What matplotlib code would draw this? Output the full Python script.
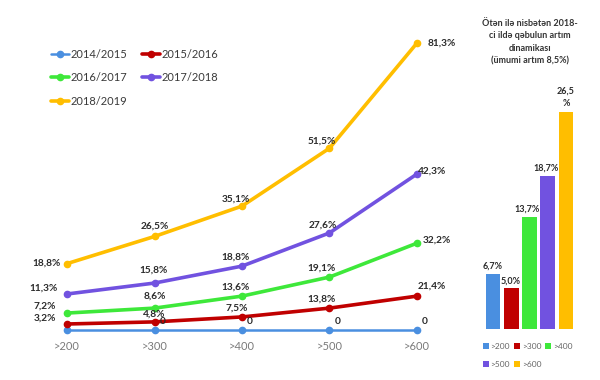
import matplotlib
matplotlib.use("Agg")
import matplotlib.pyplot as plt
from matplotlib.patches import Patch

plt.rcParams['font.family'] = ['Lato', 'DejaVu Sans']

# ---------------- data ----------------
categories = [">200", ">300", ">400", ">500", ">600"]
series_names = ["2014/2015", "2015/2016", "2016/2017", "2017/2018", "2018/2019"]

vals_2014_2015 = [0, 0, 0, 0, 0]
vals_2015_2016 = [1.7, 2.3, 3.7, 6.2, 9.6]
vals_2016_2017 = [4.8, 6.2, 9.6, 15.0, 24.6]
vals_2017_2018 = [10.2, 13.3, 18.1, 27.5, 44.2]
vals_2018_2019 = [18.8, 26.5, 35.1, 51.5, 81.3]

# data label texts as printed on the chart
labels_2014_2015 = ["", "0", "0", "0", "0"]
labels_2015_2016 = ["3,2%", "4,8%", "7,5%", "13,8%", "21,4%"]
labels_2016_2017 = ["7,2%", "8,6%", "13,6%", "19,1%", "32,2%"]
labels_2017_2018 = ["11,3%", "15,8%", "18,8%", "27,6%", "42,3%"]
labels_2018_2019 = ["18,8%", "26,5%", "35,1%", "51,5%", "81,3%"]

# bar chart: growth in 2018 relative to previous year
bar_categories = [">200", ">300", ">400", ">500", ">600"]
bar_values = [6.7, 5.0, 13.7, 18.7, 26.5]
bar_labels = ["6,7%", "5,0%", "13,7%", "18,7%", "26,5\n%"]
bar_title = "Ötən ilə nisbətən 2018-\nci ildə qəbulun artım\ndinamikası\n(ümumi artım 8,5%)"

# ---------------- style ----------------
colors = ["#4A8FE0", "#C00000", "#3EE83A", "#7152E0", "#FFBE00"]
line_widths = [1.8, 2.6, 2.6, 2.6, 2.6]
text_color = "#2B2B2B"
tick_color = "#7A7A7A"

W, H = 600, 380
fig = plt.figure(figsize=(6, 3.8), dpi=100)

# ---------------- line chart ----------------
ax = fig.add_axes([25 / W, (H - 335) / H, 435 / W, 305 / H])
series_vals = [vals_2014_2015, vals_2015_2016, vals_2016_2017, vals_2017_2018, vals_2018_2019]
series_labels = [labels_2014_2015, labels_2015_2016, labels_2016_2017, labels_2017_2018, labels_2018_2019]
x = list(range(len(categories)))

handles = []
for name, vals, c, lw in zip(series_names, series_vals, colors, line_widths):
    h, = ax.plot(x, vals, color=c, lw=lw, marker='o', ms=4.5, mec=c, mfc=c,
                 solid_capstyle='round', label=name)
    handles.append(h)

# label offsets in pixels, per series per category
offsets = [
    [(0, 0), (8, 8), (8, 8), (8, 8), (8, 8)],
    [(-22, 6), (0, 8), (-5, 9), (-8, 9), (15, 10)],
    [(-22, 7), (0, 12), (-6, 9), (-8, 9), (20, 3)],
    [(-23, 6), (-1, 13), (-6, 9), (-7, 8), (15, 3)],
    [(-20, 1), (0, 10), (-6, 7), (-8, 7), (25, 0)],
]
for si, (vals, labs) in enumerate(zip(series_vals, series_labels)):
    for ci, (v, t) in enumerate(zip(vals, labs)):
        if not t:
            continue
        ax.annotate(t, (x[ci], v), xytext=offsets[si][ci], textcoords='offset pixels',
                    ha='center', va='center', fontsize=7.3, fontweight='bold',
                    color=text_color)

ax.set_xlim(-(67 - 25) / 87.5, 4 + (460 - 417) / 87.5)
ax.set_ylim(-(335 - 330) / 3.53, (330 - 30) / 3.53)
ax.set_xticks(x)
ax.set_xticklabels(categories, color=tick_color, fontsize=8)
ax.tick_params(axis='x', length=0, pad=4)
ax.set_yticks([])
for s in ax.spines.values():
    s.set_visible(False)
ax.patch.set_alpha(0)

order = [0, 2, 4, 1, 3]
leg = ax.legend([handles[i] for i in order], [series_names[i] for i in order],
                ncol=2, loc='upper left', bbox_to_anchor=(0.037, 0.972),
                frameon=False, fontsize=8, handlelength=1.6, handletextpad=0.15,
                labelspacing=1.15, columnspacing=1.3)
for t in leg.get_texts():
    t.set_color("#3A3A3A")

# ---------------- bar chart ----------------
bx = fig.add_axes([480 / W, (H - 330) / H, 100 / W, 270 / H])
bpos = list(range(len(bar_values)))
bx.bar(bpos, bar_values, width=0.8, color=colors)
bar_offsets = [(0, 8), (-1, 7), (-2, 8), (-2, 8), (0, 14)]
for b, v, t, off in zip(bpos, bar_values, bar_labels, bar_offsets):
    bx.annotate(t, (b, v), xytext=off, textcoords='offset pixels', ha='center',
                va='center', fontsize=6.5, fontweight='bold', color=text_color,
                linespacing=1.5)
bx.set_xlim(-(493 - 480) / 18.3, 4 + (580 - 566) / 18.3)
bx.set_ylim(-1 / 8.2, 269 / 8.2)
bx.axis('off')

bhandles = [Patch(facecolor=c, edgecolor='none') for c in colors]
border = [0, 3, 1, 4, 2]
bleg = fig.legend([bhandles[i] for i in border], [bar_categories[i] for i in border],
                  ncol=3, loc='upper left', bbox_to_anchor=(483 / W, 1 - 343 / H),
                  frameon=False, fontsize=6, handlelength=0.7, handleheight=0.7,
                  handletextpad=0.2, labelspacing=1.3, columnspacing=0.5,
                  borderaxespad=0, borderpad=0)
for t in bleg.get_texts():
    t.set_color("#666666")

fig.text(530 / W, 1 - 19 / H, bar_title, ha='center', va='top', fontsize=6.5,
         fontweight='bold', color="#333333", linespacing=1.5)

fig.savefig("out.png", dpi=100)
